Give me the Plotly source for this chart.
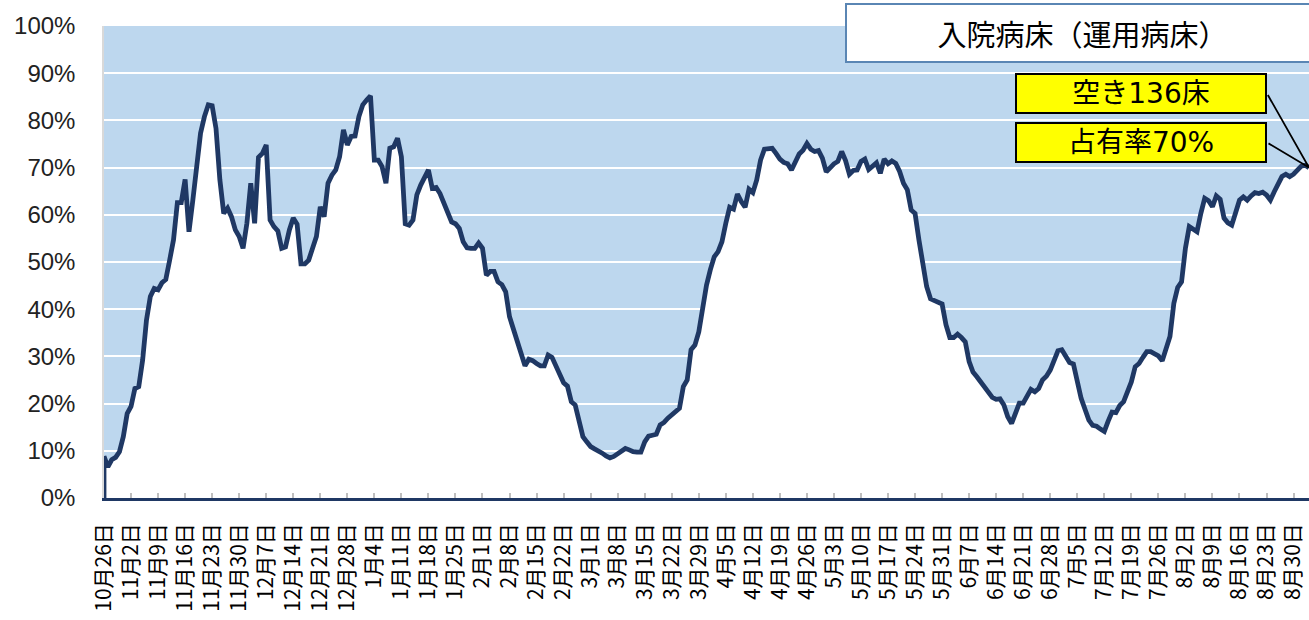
import plotly.graph_objects as go
import pandas as pd

# ---------------- data ----------------
start_date = "2020-10-26"
# daily bed occupancy rate (%) from 2020-10-26 to 2021-09-03
occupancy_pct = [
    8.8, 6.6, 8.1, 8.6, 9.8, 13.0, 17.9, 19.4, 23.2, 23.6,
    29.2, 37.7, 42.7, 44.4, 44.1, 45.6, 46.3, 50.4, 54.7, 62.6,
    62.6, 67.5, 56.4, 63.1, 70.9, 77.3, 80.8, 83.3, 83.1, 78.3,
    67.4, 60.3, 61.4, 59.6, 56.8, 55.4, 52.9, 58.2, 66.7, 58.2,
    72.2, 73.0, 74.8, 58.9, 57.5, 56.6, 52.9, 53.2, 56.8, 59.3,
    58.0, 49.6, 49.6, 50.4, 52.9, 55.4, 61.7, 59.6, 66.7, 68.4,
    69.5, 72.3, 78.0, 74.8, 76.6, 76.7, 80.8, 83.3, 84.3, 85.2,
    71.6, 71.6, 70.2, 66.7, 74.1, 74.4, 76.2, 72.3, 58.1, 57.8,
    58.9, 64.2, 66.3, 67.7, 69.5, 65.6, 65.8, 64.5, 62.4, 61.0,
    58.5, 58.1, 57.1, 54.3, 53.0, 52.9, 52.9, 54.0, 52.9, 47.2,
    48.0, 48.0, 45.8, 45.2, 43.7, 38.4, 35.6, 33.5, 30.3, 28.0,
    29.4, 29.1, 28.5, 28.0, 28.0, 30.3, 29.8, 28.0, 26.4, 24.4,
    23.7, 20.4, 19.7, 16.2, 13.0, 11.9, 10.9, 10.4, 10.0, 9.5,
    8.9, 8.5, 8.8, 9.3, 9.8, 10.5, 10.2, 9.8, 9.7, 9.7,
    11.9, 13.1, 13.3, 13.5, 15.5, 16.0, 16.9, 17.6, 18.6, 19.0,
    23.6, 25.0, 31.4, 32.4, 35.2, 41.0, 45.1, 48.4, 51.1, 52.2,
    54.3, 58.2, 61.6, 61.2, 64.4, 62.8, 61.6, 65.4, 64.7, 67.4,
    71.6, 73.9, 74.1, 74.1, 73.0, 71.8, 71.1, 70.8, 69.5, 71.3,
    72.9, 73.7, 75.1, 73.9, 73.4, 73.6, 72.0, 69.1, 70.1, 70.8,
    71.3, 73.4, 71.5, 68.6, 69.4, 69.5, 71.3, 71.8, 69.6, 70.3,
    71.0, 68.8, 71.8, 70.8, 71.4, 70.9, 69.2, 66.7, 65.3, 61.0,
    60.3, 54.7, 49.0, 44.8, 42.2, 41.8, 41.6, 41.1, 36.7, 34.0,
    34.0, 34.7, 34.0, 33.1, 28.9, 26.7, 25.7, 24.6, 23.7, 22.2,
    21.3, 20.9, 21.0, 19.7, 17.2, 15.8, 17.9, 20.1, 20.1, 21.6,
    23.0, 22.5, 23.2, 25.0, 25.8, 27.1, 29.1, 31.2, 31.4, 30.1,
    28.7, 28.4, 24.6, 21.1, 18.8, 16.5, 15.4, 15.2, 14.6, 14.1,
    16.3, 18.2, 18.1, 19.6, 20.4, 22.2, 24.6, 27.8, 28.5, 29.8,
    31.0, 31.0, 30.5, 30.1, 29.1, 31.5, 34.2, 41.2, 44.6, 45.8,
    52.9, 57.5, 56.8, 56.4, 60.3, 63.5, 63.0, 61.7, 64.0, 63.3,
    59.3, 58.3, 57.8, 60.2, 63.1, 63.8, 63.1, 64.0, 64.7, 64.5,
    64.8, 64.2, 63.1, 64.9, 66.7, 68.1, 68.6, 68.1, 68.6, 69.6,
    70.3, 70.5, 70.0,
]
vacant_beds = 136
title_text = "入院病床（運用病床）"
tick_step_days = 7

# ---------------- derived ----------------
dates = list(pd.date_range(start_date, periods=len(occupancy_pct), freq="D"))
tick_dates = dates[::tick_step_days]
tick_text = [f"{d.month}月{d.day}日" for d in tick_dates]

NAVY = "#1F3864"
BLUE_BG = "#BDD7EE"
JP_FONT = "Noto Sans CJK JP"
BOX_FONT = "DejaVu Sans, Noto Sans CJK JP"

fig = go.Figure()

# occupied area (white) with navy outline; closes down to the axis at the start
fig.add_trace(go.Scatter(
    x=[dates[0]] + dates,
    y=[0] + occupancy_pct,
    mode="lines",
    line=dict(color=NAVY, width=4.8),
    fill="tozeroy",
    fillcolor="white",
    hoverinfo="skip",
    showlegend=False,
))

# ---------------- layout ----------------
W, H = 1309, 620
ml, mr, mt, mb = 104, 0, 26, 122
pw, ph = W - ml - mr, H - mt - mb


def px_to_paper(px, py):
    return (px - ml) / pw, (H - mb - py) / ph


fig.update_layout(
    width=W, height=H,
    margin=dict(l=ml, r=mr, t=mt, b=mb, pad=0),
    paper_bgcolor="white",
    plot_bgcolor=BLUE_BG,
    showlegend=False,
    xaxis=dict(
        type="date",
        range=[dates[0], dates[-1]],
        tickmode="array",
        tickvals=tick_dates,
        ticktext=tick_text,
        tickangle=-90,
        tickfont=dict(family=JP_FONT, size=21, color="black"),
        ticks="inside",
        ticklen=5,
        tickwidth=1.5,
        tickcolor="#BFBFBF",
        showgrid=False,
        showline=True,
        linecolor=NAVY,
        linewidth=2.5,
        zeroline=False,
        ticklabelstandoff=14,
        automargin=False,
    ),
    yaxis=dict(
        range=[0, 100],
        dtick=10,
        ticksuffix="%",
        tickfont=dict(family="Liberation Sans", size=24, color="#222222"),
        showgrid=True,
        gridcolor="white",
        gridwidth=2,
        showline=True,
        linecolor="#D9D9D9",
        linewidth=1.5,
        zeroline=False,
        ticks="",
        ticklabelstandoff=22,
        automargin=False,
    ),
)

annotations = []

# title box
tx, ty = px_to_paper(1082, 33)
annotations.append(dict(
    xref="paper", yref="paper", x=tx, y=ty, xanchor="center", yanchor="middle",
    text=title_text, showarrow=False,
    font=dict(family=JP_FONT, size=29, color="black"),
    bgcolor="white", bordercolor="#5A86B4", borderwidth=2, borderpad=0,
    width=471, height=56,
))

# yellow callout boxes
last_val = occupancy_pct[-1]
labels = [f"空き{vacant_beds}床", f"占有率{round(last_val)}%"]
box_centers = [(1141, 93.5), (1141, 142.5)]
for lab, (cx, cy) in zip(labels, box_centers):
    bx, by = px_to_paper(cx, cy)
    annotations.append(dict(
        xref="paper", yref="paper", x=bx, y=by, xanchor="center", yanchor="middle",
        text=lab, showarrow=False,
        font=dict(family=BOX_FONT, size=28, color="black"),
        bgcolor="#FFFF00", bordercolor="black", borderwidth=2, borderpad=0,
        width=248, height=37,
    ))

# connector lines from the boxes' right edges to the last data point
head_px = (W - mr, H - mb - last_val / 100 * ph)
for (cx, cy) in box_centers:
    tail_x = cx + 126
    annotations.append(dict(
        xref="x", yref="y", x=dates[-1], y=last_val,
        text="", showarrow=True, arrowhead=0, arrowwidth=1.8, arrowcolor="black",
        ax=tail_x - head_px[0], ay=cy - head_px[1],
    ))

fig.update_layout(annotations=annotations)

fig.write_html(
    "out.html",
    config={"displayModeBar": False},
    post_script="document.body.style.margin='0';document.body.style.overflow='hidden';",
)
